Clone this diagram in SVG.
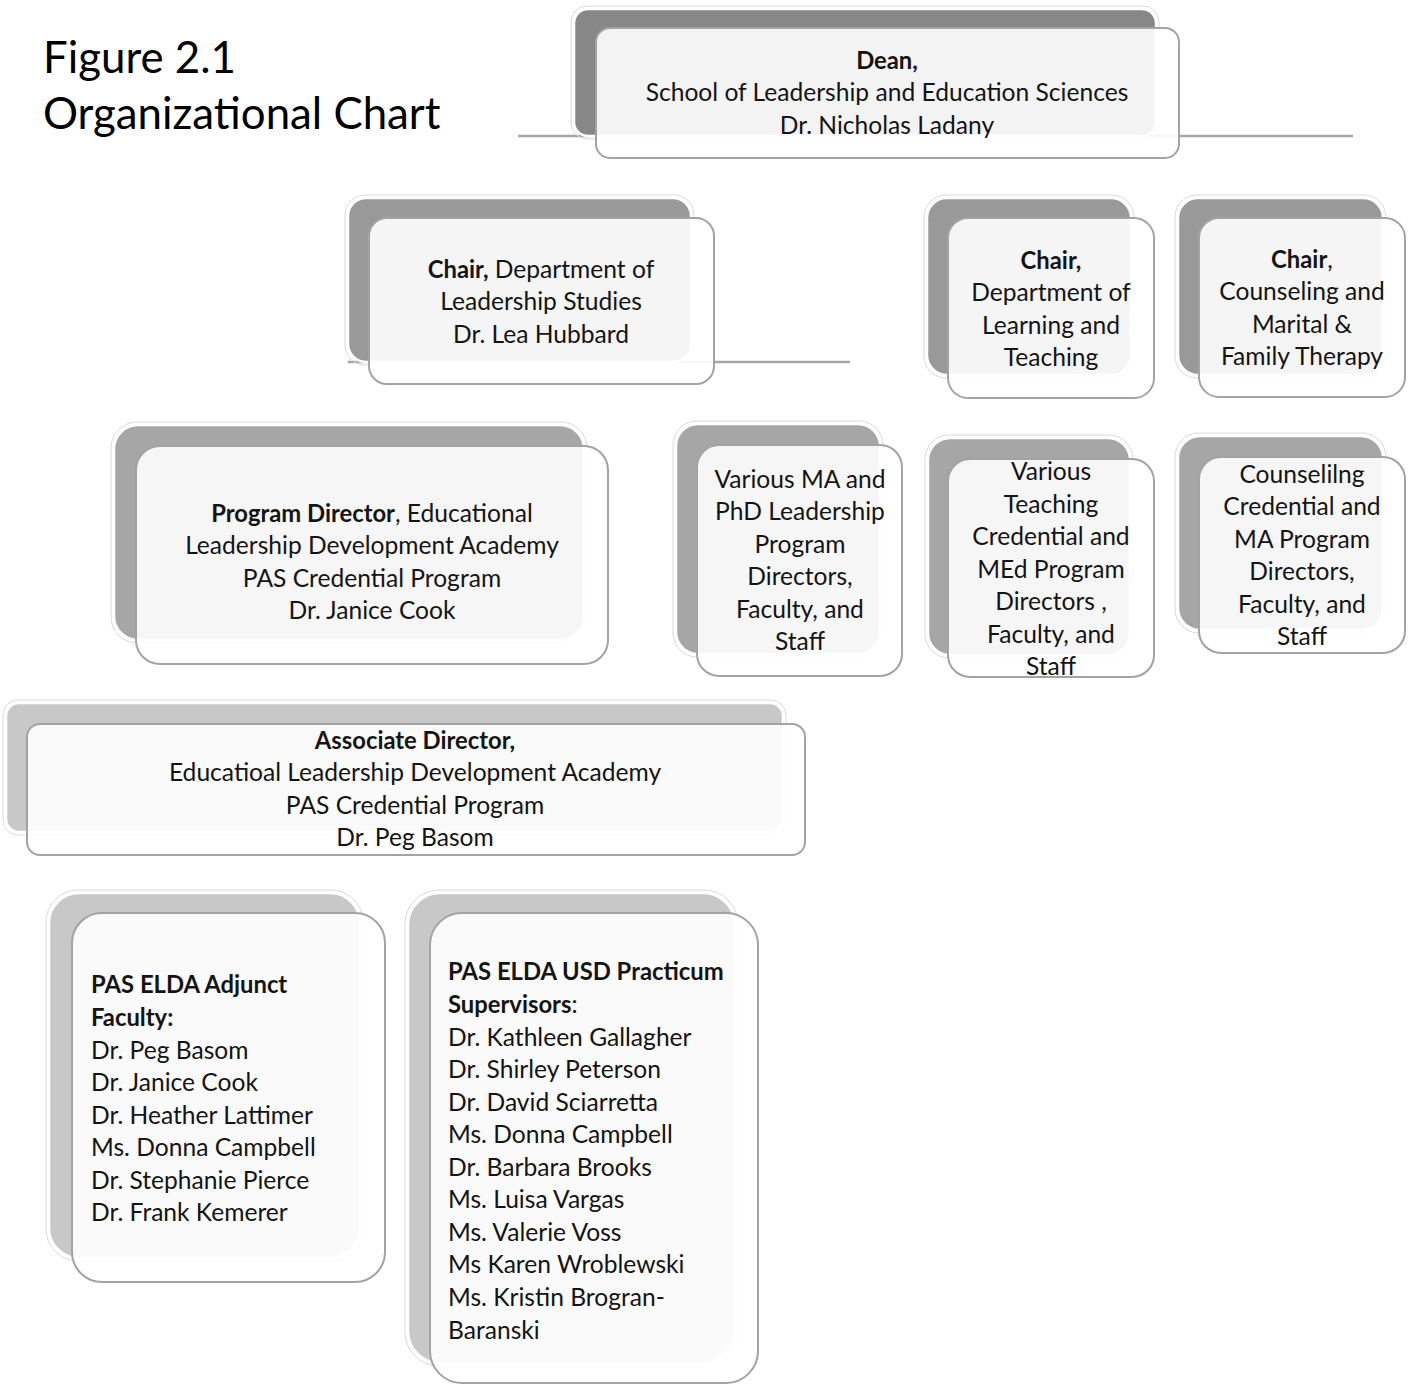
<svg xmlns="http://www.w3.org/2000/svg" width="1411" height="1385" viewBox="0 0 1411 1385">
<style>
  text{font-family:Lato,"Liberation Sans",sans-serif;font-size:24.6px;fill:#141414}
  .c{text-anchor:middle}
  .b{font-weight:bold;font-size:23.8px}
  .title{font-size:43.8px;fill:#000}
  .halo{fill:none;stroke:#dadada;stroke-width:1}
  .back{stroke:#ffffff;stroke-width:2.5}
  .front{fill:#ffffff;fill-opacity:0.9;stroke:#a3a3a3;stroke-width:2}
  .l1{fill:#878787}
  .l2{fill:#999999}
  .l3{fill:#a6a6a6}
  .l4{fill:#c8c8c8}
  .conn{stroke:#a6a6a6;stroke-width:2.5;fill:none}
</style>
<rect width="1411" height="1385" fill="#ffffff"/>

<g id="title">
  <text class="title" x="43" y="73">Figure 2.1</text>
  <text class="title" x="43" y="129">Organizational Chart</text>
</g>

<g id="connectors">
  <line class="conn" x1="518" y1="136" x2="1353" y2="136"/>
  <line class="conn" x1="348" y1="362" x2="850" y2="362"/>
</g>

<g id="dean">
  <rect class="halo" x="571" y="6" width="588" height="133" rx="16"/>
  <rect class="back l1" x="574" y="9" width="582" height="127" rx="14"/>
  <rect class="front" x="596" y="28" width="583" height="130" rx="14"/>
  <text class="c" x="887" y="69"><tspan class="b">Dean,</tspan></text>
  <text class="c" x="887" y="101">School of Leadership and Education Sciences</text>
  <text class="c" x="887" y="134">Dr. Nicholas Ladany</text>
</g>

<g id="chair-leadership">
  <rect class="halo" x="345" y="195" width="349" height="170" rx="20"/>
  <rect class="back l2" x="348" y="198" width="343" height="164" rx="18"/>
  <rect class="front" x="369" y="218" width="345" height="166" rx="18"/>
  <text class="c" x="541" y="278"><tspan class="b">Chair,</tspan> Department of</text>
  <text class="c" x="541" y="310">Leadership Studies</text>
  <text class="c" x="541" y="343">Dr. Lea Hubbard</text>
</g>

<g id="chair-learning">
  <rect class="halo" x="924" y="195" width="210" height="183" rx="22"/>
  <rect class="back l2" x="927" y="198" width="204" height="177" rx="20"/>
  <rect class="front" x="948" y="218" width="206" height="180" rx="20"/>
  <text class="c" x="1051" y="269"><tspan class="b">Chair,</tspan></text>
  <text class="c" x="1051" y="301">Department of</text>
  <text class="c" x="1051" y="334">Learning and</text>
  <text class="c" x="1051" y="366">Teaching</text>
</g>

<g id="chair-counseling">
  <rect class="halo" x="1175" y="195" width="211" height="183" rx="22"/>
  <rect class="back l2" x="1178" y="198" width="205" height="177" rx="20"/>
  <rect class="front" x="1199" y="218" width="206" height="179" rx="20"/>
  <text class="c" x="1302" y="268"><tspan class="b">Chair</tspan>,</text>
  <text class="c" x="1302" y="300">Counseling and</text>
  <text class="c" x="1302" y="333">Marital &amp;</text>
  <text class="c" x="1302" y="365">Family Therapy</text>
</g>

<g id="program-director">
  <rect class="halo" x="111" y="422" width="476" height="221" rx="26"/>
  <rect class="back l3" x="114" y="425" width="470" height="215" rx="24"/>
  <rect class="front" x="136" y="446" width="472" height="218" rx="24"/>
  <text class="c" x="372" y="522"><tspan class="b">Program Director</tspan>, Educational</text>
  <text class="c" x="372" y="554">Leadership Development Academy</text>
  <text class="c" x="372" y="587">PAS Credential Program</text>
  <text class="c" x="372" y="619">Dr. Janice Cook</text>
</g>

<g id="various-leadership">
  <rect class="halo" x="673" y="421" width="210" height="236" rx="24"/>
  <rect class="back l3" x="676" y="424" width="204" height="230" rx="22"/>
  <rect class="front" x="697" y="445" width="205" height="231" rx="22"/>
  <text class="c" x="800" y="488">Various MA and</text>
  <text class="c" x="800" y="520">PhD Leadership</text>
  <text class="c" x="800" y="553">Program</text>
  <text class="c" x="800" y="585">Directors,</text>
  <text class="c" x="800" y="618">Faculty, and</text>
  <text class="c" x="800" y="650">Staff</text>
</g>

<g id="various-teaching">
  <rect class="halo" x="925" y="435" width="208" height="223" rx="24"/>
  <rect class="back l3" x="928" y="438" width="202" height="217" rx="22"/>
  <rect class="front" x="948" y="459" width="206" height="218" rx="22"/>
  <text class="c" x="1051" y="480">Various</text>
  <text class="c" x="1051" y="513">Teaching</text>
  <text class="c" x="1051" y="545">Credential and</text>
  <text class="c" x="1051" y="578">MEd Program</text>
  <text class="c" x="1051" y="610">Directors ,</text>
  <text class="c" x="1051" y="643">Faculty, and</text>
  <text class="c" x="1051" y="675">Staff</text>
</g>

<g id="counseling-programs">
  <rect class="halo" x="1175" y="433" width="211" height="200" rx="24"/>
  <rect class="back l3" x="1178" y="436" width="205" height="194" rx="22"/>
  <rect class="front" x="1199" y="457" width="206" height="196" rx="22"/>
  <text class="c" x="1302" y="483">Counselilng</text>
  <text class="c" x="1302" y="515">Credential and</text>
  <text class="c" x="1302" y="548">MA Program</text>
  <text class="c" x="1302" y="580">Directors,</text>
  <text class="c" x="1302" y="613">Faculty, and</text>
  <text class="c" x="1302" y="645">Staff</text>
</g>

<g id="associate-director">
  <rect class="halo" x="3" y="700" width="783" height="135" rx="15"/>
  <rect class="back l4" x="6" y="703" width="777" height="129" rx="13"/>
  <rect class="front" x="27" y="724" width="778" height="131" rx="13"/>
  <text class="c" x="415" y="749"><tspan class="b">Associate Director,</tspan></text>
  <text class="c" x="415" y="781">Educatioal Leadership Development Academy</text>
  <text class="c" x="415" y="814">PAS Credential Program</text>
  <text class="c" x="415" y="846">Dr. Peg Basom</text>
</g>

<g id="adjunct-faculty">
  <rect class="halo" x="46" y="890" width="317" height="371" rx="32"/>
  <rect class="back l4" x="49" y="893" width="311" height="365" rx="30"/>
  <rect class="front" x="72" y="913" width="313" height="369" rx="30"/>
  <text x="91" y="993"><tspan class="b">PAS ELDA Adjunct</tspan></text>
  <text x="91" y="1026"><tspan class="b">Faculty:</tspan></text>
  <text x="91" y="1059">Dr. Peg Basom</text>
  <text x="91" y="1091">Dr. Janice Cook</text>
  <text x="91" y="1124">Dr. Heather Lattimer</text>
  <text x="91" y="1156">Ms. Donna Campbell</text>
  <text x="91" y="1189">Dr. Stephanie Pierce</text>
  <text x="91" y="1221">Dr. Frank Kemerer</text>
</g>

<g id="practicum-supervisors">
  <rect class="halo" x="405" y="890" width="333" height="476" rx="34"/>
  <rect class="back l4" x="408" y="893" width="327" height="470" rx="32"/>
  <rect class="front" x="430" y="913" width="328" height="470" rx="32"/>
  <text x="448" y="980"><tspan class="b">PAS ELDA USD Practicum</tspan></text>
  <text x="448" y="1013"><tspan class="b">Supervisors</tspan>:</text>
  <text x="448" y="1046">Dr. Kathleen Gallagher</text>
  <text x="448" y="1078">Dr. Shirley Peterson</text>
  <text x="448" y="1111">Dr. David Sciarretta</text>
  <text x="448" y="1143">Ms. Donna Campbell</text>
  <text x="448" y="1176">Dr. Barbara Brooks</text>
  <text x="448" y="1208">Ms. Luisa Vargas</text>
  <text x="448" y="1241">Ms. Valerie Voss</text>
  <text x="448" y="1273">Ms Karen Wroblewski</text>
  <text x="448" y="1306">Ms. Kristin Brogran-</text>
  <text x="448" y="1339">Baranski</text>
</g>
</svg>
